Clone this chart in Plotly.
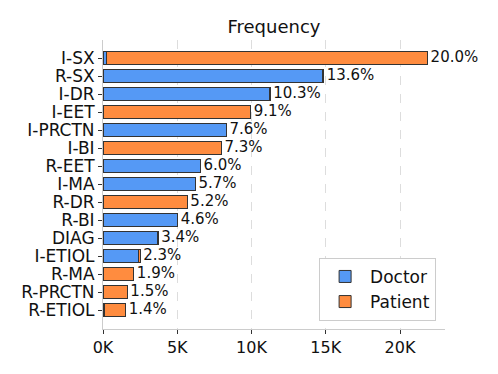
import plotly.graph_objects as go

categories = ["I-SX", "R-SX", "I-DR", "I-EET", "I-PRCTN", "I-BI", "R-EET", "I-MA",
              "R-DR", "R-BI", "DIAG", "I-ETIOL", "R-MA", "R-PRCTN", "R-ETIOL"]
doctor = [260, 14770, 11230, 30, 8310, 0, 6560, 6230, 0, 5030, 3680, 2400, 0, 0, 70]
patient = [21600, 90, 30, 9920, 0, 7980, 0, 0, 5680, 0, 40, 110, 2080, 1640, 1460]
x_ticks = [0, 5000, 10000, 15000, 20000]
x_tick_labels = ["0K", "5K", "10K", "15K", "20K"]

totals = [d + p for d, p in zip(doctor, patient)]
grand = sum(totals)
pct_text = [f"\u2009{t / grand * 100:.1f}%" for t in totals]

BLUE = "#5599f5"
ORANGE = "#ff8c3f"
EDGE = "#333333"
FONT = "DejaVu Sans"

# page has an 8px body margin; figure is sized/offset to compensate
W, H = 490, 366
L, T, R_EDGE, B_EDGE = 95, 32, 437, 321

fig = go.Figure()
fig.add_trace(go.Bar(y=categories, x=doctor, orientation="h", name="Doctor",
                     marker=dict(color=BLUE, line=dict(color=EDGE, width=1)), width=0.72))
fig.add_trace(go.Bar(y=categories, x=patient, orientation="h", name="Patient",
                     marker=dict(color=ORANGE, line=dict(color=EDGE, width=1)), width=0.72))
fig.add_trace(go.Scatter(y=categories, x=totals, mode="text", text=pct_text,
                         textposition="middle right", showlegend=False,
                         cliponaxis=False,
                         textfont=dict(family=FONT, size=15, color="#111"),
                         hoverinfo="skip"))

n = len(categories)
fig.update_layout(
    template="none",
    barmode="stack",
    width=W, height=H,
    margin=dict(l=L, r=W - R_EDGE, t=T, b=H - B_EDGE, autoexpand=False),
    paper_bgcolor="white", plot_bgcolor="white",
    font=dict(family=FONT, color="#111"),
    title=dict(text="Frequency", x=(L + R_EDGE) / 2 / W, xanchor="center",
               y=1 - 19 / H, yanchor="middle", font=dict(size=18, family=FONT)),
    showlegend=True,
    legend=dict(x=0.974, xanchor="right", y=0.028, yanchor="bottom",
                traceorder="normal",
                bordercolor="#cccccc", borderwidth=1, bgcolor="white",
                font=dict(size=17, family=FONT), itemwidth=40),
    xaxis=dict(range=[0, 23030], tickmode="array", tickvals=x_ticks, ticktext=x_tick_labels,
               automargin=False,
               showgrid=True, gridcolor="#dddddd", griddash="dash", gridwidth=1,
               showline=True, linecolor="#cccccc", linewidth=1,
               ticks="outside", ticklen=4, tickcolor="#333", zeroline=False,
               tickfont=dict(size=16, family=FONT)),
    yaxis=dict(categoryorder="array", categoryarray=categories,
               tickmode="array", tickvals=categories, ticktext=categories,
               range=[n - 1 + 1.05, -1.0], automargin=False,
               showline=True, linecolor="#cccccc", linewidth=1,
               ticks="outside", ticklen=4, tickcolor="#333", showgrid=False,
               zeroline=False,
               tickfont=dict(size=17, family=FONT)),
)

fig.write_html("out.html")
